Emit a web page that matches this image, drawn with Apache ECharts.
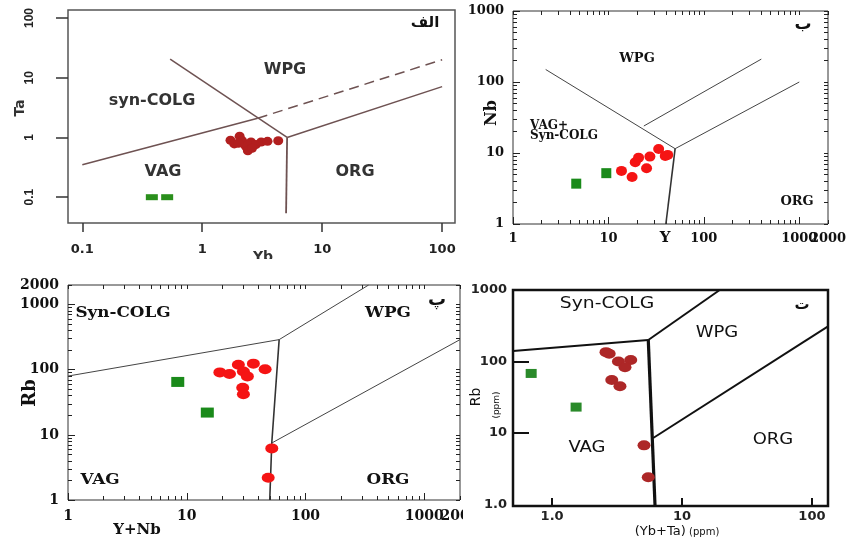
<!DOCTYPE html>
<html><head><meta charset="utf-8">
<script src="https://cdn.jsdelivr.net/npm/echarts@6/dist/echarts.min.js"></script>
<style>html,body{margin:0;padding:0;background:#fff}#c{width:848px;height:542px}</style>
</head><body><div id="c"></div>
<script>
// ---------- Panel A: Ta vs Yb ----------
const aRedYb = [1.72, 1.85, 2.05, 2.15, 2.3, 2.4, 2.55, 2.8, 3.1, 3.5, 4.3, 2.0, 2.6];
const aRedTa = [0.9, 0.78, 1.05, 0.88, 0.72, 0.6, 0.84, 0.76, 0.84, 0.86, 0.88, 0.8, 0.66];
const aGreenYb = [0.38, 0.51];
const aGreenTa = [0.1, 0.1];
const aTicks = [0.1, 1, 10, 100];
const aLowYb = [0.1, 2.9],  aLowTa = [0.35, 2.1];
const aDashYb = [2.9, 100], aDashTa = [2.1, 20];
const aWpgYb = [0.54, 5.1], aWpgTa = [20.5, 1];
const aOrgYb = [5.1, 100],  aOrgTa = [1, 7.1];
const aVertYb = [5.1, 5.0], aVertTa = [1, 0.054];

// ---------- Panel B: Nb vs Y ----------
const bRedY  = [13.7, 17.7, 19.1, 20.7, 25.1, 27.2, 33.6, 39.4, 41.8];
const bRedNb = [5.6, 4.6, 7.4, 8.6, 6.1, 8.9, 11.4, 9.1, 9.4];
const bGreenY  = [4.6, 9.5];
const bGreenNb = [3.7, 5.2];
const bXLabels = [1, 10, 100, 1000];
const bXEndLabel = [2000];
const bYLabels = [1, 10, 100, 1000];
const bL1Y = [2.2, 50],   bL1Nb = [150, 11.5];
const bL2Y = [23.5, 400], bL2Nb = [24, 210];
const bL3Y = [50, 1000],  bL3Nb = [11.5, 100];
const bL4Y = [50, 40],    bL4Nb = [11.5, 1];

// ---------- Panel C: Rb vs Y+Nb ----------
const cRedYNb = [19, 22.9, 27.2, 30, 32.4, 36.4, 45.7, 29.6, 30, 52, 48.5];
const cRedRb  = [91, 86, 119, 94, 79, 124, 102, 53, 42, 6.2, 2.2];
const cGreenYNb = [8.4, 14.9];
const cGreenRb  = [65, 22];
const cXLabels = [1, 10, 100, 1000];
const cXEndLabel = [2000];
const cYLabels = [1, 10, 100, 1000, 2000];
const cL1X = [1, 60],          cL1Rb = [80, 290];
const cL2X = [60, 340],        cL2Rb = [290, 2000];
const cL3X = [60, 52, 50],     cL3Rb = [290, 7.5, 1];
const cL4X = [52, 2000],       cL4Rb = [7.5, 290];

// ---------- Panel D: Rb vs Yb+Ta ----------
const dRedYbTa = [2.6, 2.75, 3.24, 4.03, 3.64, 2.88, 3.33, 5.1, 5.5];
const dRedRb   = [135, 128, 100, 105, 83, 55, 45, 6.7, 2.4];
const dGreenYbTa = [0.69, 1.53];
const dGreenRb   = [68, 23];
const dXLabels = [1, 10, 100];
const dYLabels = [1, 10, 100, 1000];
const dYTicks = [10, 100];
const dL1X = [0.5, 5.5],  dL1Rb = [140, 200];
const dL2X = [5.5, 19.5], dL2Rb = [200, 1000];
const dL3X = [5.5, 6.2],  dL3Rb = [200, 0.95];
const dL4X = [6.0, 133],  dL4Rb = [8.5, 310];

function zip(xs, ys) { return xs.map((x, i) => [x, ys[i]]); }
function logTicks(lo, hi, extra) {
  const t = [];
  for (let e = lo; e < hi; e++) for (let m = 1; m < 10; m++) t.push(+(m * Math.pow(10, e)).toPrecision(6));
  t.push(Math.pow(10, hi));
  return t.concat(extra || []);
}
function fmt(v) { return v < 1 ? String(v) : String(Math.round(v)); }

const serifB = '"DejaVu Serif", serif';
const sansB = '"DejaVu Sans", sans-serif';

function logAxis(o) {
  return Object.assign({
    type: 'log', logBase: 10,
    axisLine: { show: false, onZero: false }, splitLine: { show: false }, minorTick: { show: false },
    axisPointer: { show: false }
  }, o);
}

const bxTicks = logTicks(0, 3, [2000]);
const byTicks = logTicks(0, 3);
const cxTicks = logTicks(0, 3, [2000]);
const cyTicks = logTicks(0, 3, [2000]);
const tickCol = '#222';

const serifLbl = (size, margin, vals) => ({ customValues: vals, formatter: fmt, margin: margin, hideOverlap: false,
  fontFamily: serifB, fontWeight: 'bold', fontSize: size, color: '#111' });
const minorT = (vals, len) => ({ show: true, inside: true, length: len || 4, customValues: vals, lineStyle: { color: tickCol, width: 1 } });

const xAxis = [
  // 0: A bottom
  logAxis({ gridIndex: 0, min: 0.076, max: 128, position: 'bottom',
    axisTick: { show: true, inside: false, length: 9, customValues: aTicks, lineStyle: { color: '#333', width: 1.5 } },
    axisLabel: { customValues: aTicks, formatter: fmt, margin: 20, hideOverlap: false,
      fontFamily: sansB, fontWeight: 'bold', fontSize: 13, color: '#222' } }),
  // 1: B bottom (major ticks + labels)
  logAxis({ gridIndex: 1, min: 1, max: 2000, position: 'bottom',
    axisTick: minorT(bXLabels, 7),
    axisLabel: serifLbl(13, 8, bXLabels) }),
  // 2: B top
  logAxis({ gridIndex: 1, min: 1, max: 2000, position: 'top',
    axisTick: minorT(bxTicks, 4), axisLabel: { show: false } }),
  // 3: C bottom (major ticks + labels)
  logAxis({ gridIndex: 2, min: 1, max: 2000, position: 'bottom',
    axisTick: minorT(cXLabels, 7),
    axisLabel: serifLbl(14, 9, cXLabels) }),
  // 4: C top
  logAxis({ gridIndex: 2, min: 1, max: 2000, position: 'top',
    axisTick: minorT(cxTicks, 4), axisLabel: { show: false } }),
  // 5: D bottom
  logAxis({ gridIndex: 3, min: 0.5, max: 133, position: 'bottom', z: 60,
    axisTick: { show: true, inside: true, length: 8, customValues: dXLabels, lineStyle: { color: '#111', width: 2 } },
    axisLabel: { customValues: dXLabels, formatter: v => v === 1 ? '1.0' : fmt(v), margin: 4, hideOverlap: false,
      fontFamily: sansB, fontWeight: 'bold', fontSize: 13, color: '#222' } }),
  // 6: B bottom minor ticks + end label (2000), overlapping the 1000 label as in the original
  logAxis({ gridIndex: 1, min: 1, max: 2000, position: 'bottom',
    axisTick: minorT(bxTicks, 4), axisLabel: serifLbl(13, 8, bXEndLabel) }),
  // 7: C bottom minor ticks + end label (2000)
  logAxis({ gridIndex: 2, min: 1, max: 2000, position: 'bottom',
    axisTick: minorT(cxTicks, 4), axisLabel: serifLbl(14, 9, cXEndLabel) })
];

const yAxis = [
  // 0: A left
  logAxis({ gridIndex: 0, min: 0.037, max: 136, position: 'left',
    axisTick: { show: true, inside: false, length: 12, customValues: aTicks, lineStyle: { color: '#333', width: 1.5 } },
    axisLabel: { customValues: aTicks, formatter: fmt, rotate: 90, margin: 32, hideOverlap: false,
      fontFamily: '"Liberation Sans", sans-serif', fontWeight: 'bold', fontSize: 12, color: '#222' } }),
  // 1: B left (major ticks + labels)
  logAxis({ gridIndex: 1, min: 1, max: 1000, position: 'left',
    axisTick: minorT(bYLabels, 7), axisLabel: serifLbl(13, 9, bYLabels) }),
  // 2: B right
  logAxis({ gridIndex: 1, min: 1, max: 1000, position: 'right',
    axisTick: minorT(byTicks, 4), axisLabel: { show: false } }),
  // 3: C left (major ticks + labels)
  logAxis({ gridIndex: 2, min: 1, max: 2000, position: 'left',
    axisTick: minorT([1, 10, 100, 1000], 7), axisLabel: serifLbl(14, 9, cYLabels) }),
  // 4: C right
  logAxis({ gridIndex: 2, min: 1, max: 2000, position: 'right',
    axisTick: minorT(cyTicks, 4), axisLabel: { show: false } }),
  // 5: D left
  logAxis({ gridIndex: 3, min: 0.95, max: 1000, position: 'left', z: 60,
    axisTick: { show: true, inside: true, length: 16, customValues: dYTicks, lineStyle: { color: '#111', width: 2 } },
    axisLabel: { customValues: dYLabels, formatter: v => v === 1 ? '1.0' : fmt(v), margin: 6, hideOverlap: false,
      fontFamily: sansB, fontWeight: 'bold', fontSize: 13, color: '#222' } }),
  // 6: B left minor ticks
  logAxis({ gridIndex: 1, min: 1, max: 1000, position: 'left',
    axisTick: minorT(byTicks, 4), axisLabel: { show: false } }),
  // 7: C left minor ticks
  logAxis({ gridIndex: 2, min: 1, max: 2000, position: 'left',
    axisTick: minorT(cyTicks, 4), axisLabel: { show: false } })
];

function lineS(xs, ys, xi, yi, color, width, type, z) {
  return { type: 'line', xAxisIndex: xi, yAxisIndex: yi, data: zip(xs, ys), symbol: 'none', silent: true,
    animation: false, z: z || 2, lineStyle: { color: color, width: width, type: type || 'solid' } };
}
function scat(xs, ys, xi, yi, symbol, size, color, z) {
  return { type: 'scatter', xAxisIndex: xi, yAxisIndex: yi, data: zip(xs, ys), symbol: symbol, symbolSize: size,
    silent: true, animation: false, z: z || 3, itemStyle: { color: color, opacity: 1 } };
}

const lnA = '#6e5252';
const series = [
  lineS(aLowYb, aLowTa, 0, 0, lnA, 1.5),
  lineS(aDashYb, aDashTa, 0, 0, lnA, 1.5, [10, 6]),
  lineS(aWpgYb, aWpgTa, 0, 0, lnA, 1.5),
  lineS(aOrgYb, aOrgTa, 0, 0, lnA, 1.5),
  lineS(aVertYb, aVertTa, 0, 0, lnA, 1.8),
  scat(aRedYb, aRedTa, 0, 0, 'circle', [10, 9], '#b21f1f'),
  scat(aGreenYb, aGreenTa, 0, 0, 'rect', [12, 6], '#2a8f1c'),

  lineS(bL1Y, bL1Nb, 1, 1, '#444', 1),
  lineS(bL2Y, bL2Nb, 1, 1, '#444', 1),
  lineS(bL3Y, bL3Nb, 1, 1, '#444', 1),
  lineS(bL4Y, bL4Nb, 1, 1, '#333', 1.6),
  scat(bRedY, bRedNb, 1, 1, 'circle', [11, 10], '#f51414'),
  scat(bGreenY, bGreenNb, 1, 1, 'rect', [10, 10], '#1a8a1a'),

  lineS(cL1X, cL1Rb, 3, 3, '#444', 1),
  lineS(cL2X, cL2Rb, 3, 3, '#444', 1),
  lineS(cL3X, cL3Rb, 3, 3, '#333', 1.6),
  lineS(cL4X, cL4Rb, 3, 3, '#444', 1),
  scat(cRedYNb, cRedRb, 3, 3, 'circle', [13, 10], '#f51414'),
  scat(cGreenYNb, cGreenRb, 3, 3, 'rect', [13, 10], '#1a8a1a'),

  lineS(dL1X, dL1Rb, 5, 5, '#111', 2, 'solid', 60),
  lineS(dL2X, dL2Rb, 5, 5, '#111', 2, 'solid', 60),
  lineS(dL3X, dL3Rb, 5, 5, '#111', 3.2, 'solid', 60),
  lineS(dL4X, dL4Rb, 5, 5, '#111', 2, 'solid', 60),
  scat(dRedYbTa, dRedRb, 5, 5, 'circle', [13, 10], '#ad2727', 61),
  scat(dGreenYbTa, dGreenRb, 5, 5, 'rect', [11, 9], '#2a8a2a', 61)
];

function txt(t, x, y, font, opt) {
  opt = opt || {};
  return { type: 'text', x: x, y: y, z: opt.z || 70, rotation: opt.rot || 0,
    scaleX: opt.sx || 1, scaleY: opt.sy || 1, silent: true,
    style: { text: t, font: font, fill: opt.fill || '#111',
      align: opt.align || 'center', verticalAlign: 'middle',
      textAlign: opt.align || 'center', textVerticalAlign: 'middle' } };
}

const graphic = [
  // covers for cropped sub-images
  { type: 'rect', z: 50, silent: true, shape: { x: 463, y: 503, width: 47, height: 39 }, style: { fill: '#fff' } },
  { type: 'rect', z: 50, silent: true, shape: { x: 235, y: 259, width: 60, height: 16 }, style: { fill: '#fff' } },
  // Panel A
  txt('syn-COLG', 152, 101, 'bold 16px ' + sansB, { fill: '#333', z: 10 }),
  txt('WPG', 285, 70, 'bold 16px ' + sansB, { fill: '#333', z: 10 }),
  txt('VAG', 163, 172, 'bold 16px ' + sansB, { fill: '#333', z: 10 }),
  txt('ORG', 355, 172, 'bold 16px ' + sansB, { fill: '#333', z: 10 }),
  txt('الف', 425, 23, 'bold 15px ' + sansB, { fill: '#111', z: 10 }),
  txt('Ta', 20, 108, 'bold 14px ' + sansB, { rot: Math.PI / 2, fill: '#333', z: 10 }),
  txt('Yb', 263, 257, 'bold 14px ' + sansB, { fill: '#333', z: 10 }),
  // Panel B
  txt('WPG', 637, 59, 'bold 13px ' + serifB, { z: 10 }),
  txt('VAG+', 530, 126, 'bold 12px ' + serifB, { align: 'left', z: 10 }),
  txt('Syn-COLG', 530, 136, 'bold 12px ' + serifB, { align: 'left', z: 10 }),
  txt('ORG', 797, 202, 'bold 13px ' + serifB, { z: 10 }),
  txt('ب', 803, 25, 'bold 17px ' + sansB, { z: 10 }),
  txt('Nb', 492, 113, 'bold 16px ' + serifB, { rot: Math.PI / 2, z: 10 }),
  txt('Y', 665, 238, 'bold 15px ' + serifB, { z: 10 }),
  // Panel C
  txt('Syn-COLG', 123, 313, 'bold 14px ' + serifB, { sx: 1.2, z: 10 }),
  txt('WPG', 388, 313, 'bold 14px ' + serifB, { sx: 1.2, z: 10 }),
  txt('VAG', 100, 480, 'bold 14px ' + serifB, { sx: 1.2, z: 10 }),
  txt('ORG', 388, 480, 'bold 14px ' + serifB, { sx: 1.2, z: 10 }),
  txt('پ', 437, 300, 'bold 18px ' + sansB, { z: 10 }),
  txt('Rb', 30, 393, 'bold 18px ' + serifB, { rot: Math.PI / 2, z: 10 }),
  txt('Y+Nb', 137, 530, 'bold 15px ' + serifB, { z: 10 }),
  // Panel D
  txt('Syn-COLG', 607, 304, '15px ' + sansB, { sx: 1.25, z: 70 }),
  txt('WPG', 717, 333, '15px ' + sansB, { sx: 1.2, z: 70 }),
  txt('VAG', 587, 448, '15px ' + sansB, { sx: 1.2, z: 70 }),
  txt('ORG', 773, 440, '15px ' + sansB, { sx: 1.2, z: 70 }),
  txt('ت', 802, 305, 'bold 15px ' + sansB, { z: 70 }),
  txt('Rb', 476, 397, '14px ' + sansB, { rot: Math.PI / 2, z: 70 }),
  txt('(ppm)', 497, 405, '9px ' + sansB, { rot: Math.PI / 2, z: 70 }),
  { type: 'text', x: 677, y: 532, z: 70, silent: true,
    style: { text: '{a|(Yb+Ta)} {b|(ppm)}', align: 'center', verticalAlign: 'middle', textAlign: 'center', textVerticalAlign: 'middle',
      rich: { a: { font: '13px ' + sansB, fill: '#111' }, b: { font: '10px ' + sansB, fill: '#111' } } } }
];

const chart = echarts.init(document.getElementById('c'), null, { renderer: 'canvas' });
chart.setOption({
  backgroundColor: '#ffffff',
  animation: false,
  grid: [
    { left: 68, top: 10, width: 387, height: 213, show: true, borderColor: '#555', borderWidth: 1.5, backgroundColor: 'transparent', containLabel: false, outerBoundsMode: 'none' },
    { left: 513, top: 11, width: 315, height: 213, show: true, borderColor: '#333', borderWidth: 1, backgroundColor: 'transparent', containLabel: false, outerBoundsMode: 'none' },
    { left: 68, top: 285, width: 392, height: 215, show: true, borderColor: '#333', borderWidth: 1, backgroundColor: 'transparent', containLabel: false, outerBoundsMode: 'none' },
    { left: 513, top: 290, width: 315, height: 216, show: true, borderColor: '#111', borderWidth: 2.5, backgroundColor: 'transparent', containLabel: false, outerBoundsMode: 'none', z: 60 }
  ],
  xAxis: xAxis,
  yAxis: yAxis,
  series: series,
  graphic: graphic
});
</script>
</body></html>
